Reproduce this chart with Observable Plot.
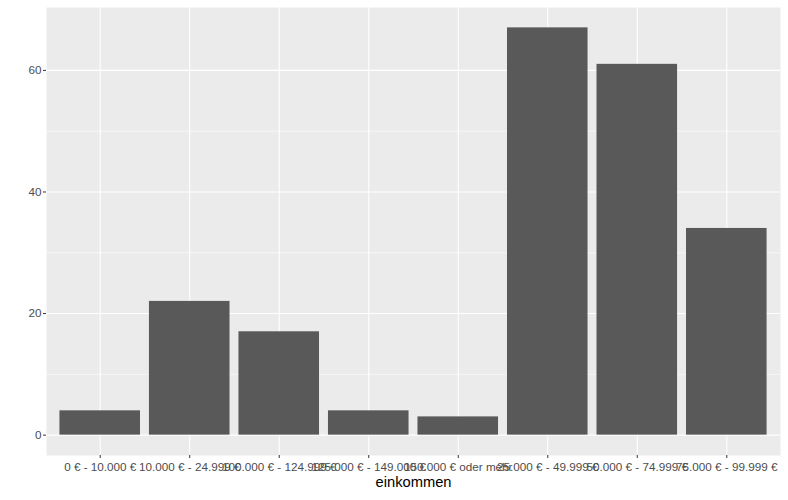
<!DOCTYPE html>
<html><head><meta charset="utf-8">
<script src="https://cdn.jsdelivr.net/npm/d3@7"></script>
<script src="https://cdn.jsdelivr.net/npm/@observablehq/plot@0.6"></script>
<style>body{margin:0;background:#fff}</style>
</head><body><div id="chart"></div>
<script>
const categories = [
  "0 € - 10.000 €",
  "10.000 € - 24.999 €",
  "100.000 € - 124.999 €",
  "125.000 € - 149.000 €",
  "150.000 € oder mehr",
  "25.000 € - 49.999 €",
  "50.000 € - 74.999 €",
  "75.000 € - 99.999 €"
];
const counts = [4, 22, 17, 4, 3, 67, 61, 34];
const yMajorTicks = [0, 20, 40, 60];
const yMinorTicks = [10, 30, 50];
const xTitle = "einkommen";

const data = categories.map((c, i) => ({einkommen: c, n: counts[i]}));

const chart = Plot.plot({
  width: 788, height: 500,
  marginLeft: 46, marginRight: 8, marginTop: 7, marginBottom: 45,
  style: {fontFamily: "Liberation Sans, Arial, sans-serif", background: "#fff"},
  x: {domain: categories, paddingInner: 0.1, paddingOuter: 0.15, align: 0.5, round: false, label: null},
  y: {domain: [-3.35, 70.35], label: null},
  marks: [
    Plot.frame({fill: "#EBEBEB", stroke: "none"}),
    Plot.gridY(yMinorTicks, {stroke: "#fff", strokeOpacity: 1, strokeWidth: 0.55}),
    Plot.gridY(yMajorTicks, {stroke: "#fff", strokeOpacity: 1, strokeWidth: 1.1}),
    Plot.gridX({stroke: "#fff", strokeOpacity: 1, strokeWidth: 1.1}),
    Plot.barY(data, {x: "einkommen", y: "n", fill: "#595959"}),
    Plot.axisY(yMajorTicks, {tickSize: 3, tickPadding: 2, stroke: "#333", fill: "#4D4D4D", fontSize: 11.7, label: null}),
    Plot.axisX({tickSize: 3, tickPadding: 4, stroke: "#333", fill: "#4D4D4D", fontSize: 11.7, label: null}),
    Plot.text([xTitle], {frameAnchor: "bottom", dy: 31, text: d => d, fontSize: 14.7, fill: "#000"})
  ]
});
document.getElementById("chart").append(chart);
</script>
</body></html>
